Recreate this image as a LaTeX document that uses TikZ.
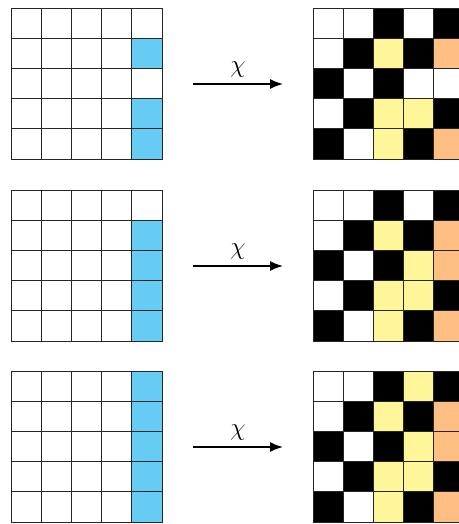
\documentclass[tikz,border=0pt]{standalone}
\usepackage{amsmath}
\usepackage{xcolor}
\usepackage{tikz}
\usetikzlibrary{arrows.meta}

\definecolor{cellw}{HTML}{FFFFFF}
\definecolor{cellk}{HTML}{000000}
\definecolor{cellb}{HTML}{66CCF4}
\definecolor{celly}{HTML}{FFF599}
\definecolor{cello}{HTML}{FFBE82}

\def\cs{30.2}
% one 5x5 board, rows listed from top to bottom
\newcommand{\drawgrid}[3]{%
  \foreach \row [count=\r] in {#3} {
    \foreach \c [count=\col] in \row {
      \draw[cell, fill=cell\c] ({#1+(\col-1)*\cs},{#2+(\r-1)*\cs}) rectangle ++(\cs,\cs);
    }
  }%
}

\begin{document}
\begin{tikzpicture}[
      x=1pt, y=-1pt,
      cell/.style={draw=black!85, line width=0.7pt},
      arrow/.style={-{Latex[length=13pt,width=10pt]}, line width=1.5pt},
      lbl/.style={font=\fontsize{25}{28}\selectfont}
    ]
    \useasboundingbox (0,0) rectangle (458,524);

    \drawgrid{11}{8}{{w,w,w,w,w},{w,w,w,w,b},{w,w,w,w,w},{w,w,w,w,b},{w,w,w,w,b}}
    \drawgrid{313}{8}{{w,w,k,w,k},{w,k,y,k,o},{k,w,k,w,w},{w,k,y,y,k},{k,w,y,k,o}}

    \drawgrid{11}{190}{{w,w,w,w,w},{w,w,w,w,b},{w,w,w,w,b},{w,w,w,w,b},{w,w,w,w,b}}
    \drawgrid{313}{190}{{w,w,k,w,k},{w,k,y,k,o},{k,w,k,y,o},{w,k,y,y,k},{k,w,y,k,o}}

    \drawgrid{11}{371}{{w,w,w,w,b},{w,w,w,w,b},{w,w,w,w,b},{w,w,w,w,b},{w,w,w,w,b}}
    \drawgrid{313}{371}{{w,w,k,y,k},{w,k,y,k,o},{k,w,k,y,o},{w,k,y,y,k},{k,w,y,k,o}}

    \coordinate (from1) at (193,84);
    \coordinate (to1) at (283,84);
    \coordinate (from2) at (193,266);
    \coordinate (to2) at (283,266);
    \coordinate (from3) at (193,447);
    \coordinate (to3) at (283,447);

    \draw[arrow] (from1) -- (to1) node[midway, above=3pt, lbl] (chi1) {$\chi$};
    \draw[arrow] (from2) -- (to2) node[midway, above=3pt, lbl] (chi2) {$\chi$};
    \draw[arrow] (from3) -- (to3) node[midway, above=3pt, lbl] (chi3) {$\chi$};
  \end{tikzpicture}
\end{document}
